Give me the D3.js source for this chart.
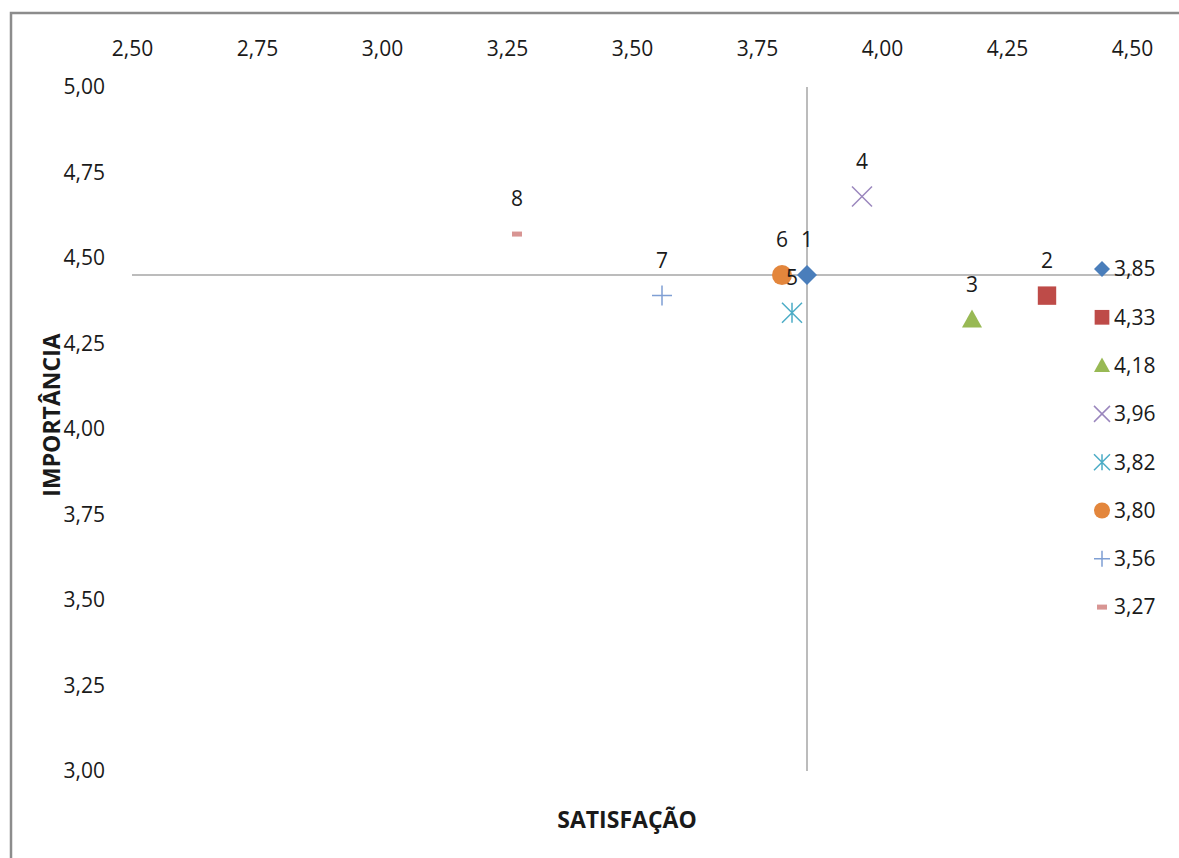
<!DOCTYPE html>
<html>
<head>
<meta charset="utf-8">
<script src="https://cdn.jsdelivr.net/npm/d3@7"></script>
<style>
  html, body { margin: 0; padding: 0; background: #fff; }
  svg { display: block; }
  text { font-family: "Open Sans", "Noto Sans", sans-serif; fill: #1a1a1a; }
</style>
</head>
<body>
<svg id="chart" width="1179" height="858"></svg>
<script>
// ---- data ----
const pointLabels = ["1", "2", "3", "4", "5", "6", "7", "8"];
const satisfaction = [3.85, 4.33, 4.18, 3.96, 3.82, 3.80, 3.56, 3.27];
const importance = [4.45, 4.39, 4.32, 4.68, 4.34, 4.45, 4.39, 4.57];
const xTicks = [2.50, 2.75, 3.00, 3.25, 3.50, 3.75, 4.00, 4.25, 4.50];
const yTicks = [3.00, 3.25, 3.50, 3.75, 4.00, 4.25, 4.50, 4.75, 5.00];
const crossX = 3.85;
const crossY = 4.45;
const xTitle = "SATISFAÇÃO";
const yTitle = "IMPORTÂNCIA";

// ---- styles ----
const shapes = ["diamond", "square", "triangle", "x", "asterisk", "circle", "plus", "dash"];
const colors = ["#4a7ebb", "#be4b48", "#98b954", "#9a86bd", "#4bacc6", "#e3863c", "#7f9fd4", "#d89593"];

const svg = d3.select("#chart");
const fmt = v => d3.format(".2f")(v).replace(".", ",");

const x = d3.scaleLinear().domain([2.5, 4.5]).range([132, 1132]);
const y = d3.scaleLinear().domain([3, 5]).range([771, 87]);

// frame
svg.append("path")
  .attr("d", "M11,870 L11,13 L1190,13")
  .attr("fill", "none").attr("stroke", "#8c8c8c").attr("stroke-width", 2.5);

// axes (labels only)
const xAxis = svg.append("g").attr("transform", `translate(0,${y(5) - 37})`)
  .call(d3.axisTop(x).tickValues(xTicks).tickFormat(fmt).tickSize(0).tickPadding(0));
xAxis.select(".domain").remove();
xAxis.selectAll("text").attr("font-size", 21).attr("font-family", "Open Sans").attr("fill", "#1a1a1a").attr("dy", "0.3em");

const yAxis = svg.append("g").attr("transform", `translate(${x(2.5)},0)`)
  .call(d3.axisLeft(y).tickValues(yTicks).tickFormat(fmt).tickSize(0).tickPadding(27));
yAxis.select(".domain").remove();
yAxis.selectAll("text").attr("font-size", 21).attr("font-family", "Open Sans").attr("fill", "#1a1a1a");

// crossing lines
svg.append("line")
  .attr("x1", x(2.5)).attr("x2", x(4.5)).attr("y1", y(crossY)).attr("y2", y(crossY))
  .attr("stroke", "#a6a6a6").attr("stroke-width", 1.5);
svg.append("line")
  .attr("x1", x(crossX)).attr("x2", x(crossX)).attr("y1", y(5)).attr("y2", y(3))
  .attr("stroke", "#a6a6a6").attr("stroke-width", 1.5);

// marker drawing
function drawMarker(g, shape, color, s) {
  const h = s / 2;
  switch (shape) {
    case "diamond":
      g.append("path").attr("d", `M0,${-h} L${h},0 L0,${h} L${-h},0 Z`).attr("fill", color);
      break;
    case "square":
      g.append("rect").attr("x", -h * 0.92).attr("y", -h * 0.92).attr("width", s * 0.92).attr("height", s * 0.92).attr("fill", color);
      break;
    case "triangle":
      g.append("path").attr("d", `M0,${-h} L${h},${h * 0.8} L${-h},${h * 0.8} Z`).attr("fill", color);
      break;
    case "x":
      g.append("path").attr("d", `M${-h},${-h} L${h},${h} M${-h},${h} L${h},${-h}`).attr("stroke", color).attr("stroke-width", 1.5);
      break;
    case "asterisk":
      g.append("path").attr("d", `M${-h},${-h} L${h},${h} M${-h},${h} L${h},${-h} M0,${-h} L0,${h}`).attr("stroke", color).attr("stroke-width", 1.5);
      break;
    case "circle":
      g.append("circle").attr("r", h).attr("fill", color);
      break;
    case "plus":
      g.append("path").attr("d", `M${-h},0 L${h},0 M0,${-h} L0,${h}`).attr("stroke", color).attr("stroke-width", 1.5);
      break;
    case "dash":
      g.append("rect").attr("x", -5).attr("y", -2.5).attr("width", 10).attr("height", 5).attr("fill", color);
      break;
  }
}

// points
const pts = svg.append("g");
satisfaction.forEach((sv, i) => {
  const g = pts.append("g").attr("transform", `translate(${x(sv)},${y(importance[i])})`);
  drawMarker(g, shapes[i], colors[i], 20);
});
// data labels
satisfaction.forEach((sv, i) => {
  svg.append("text")
    .attr("x", x(sv)).attr("y", y(importance[i]) - 35)
    .attr("dy", "0.35em").attr("text-anchor", "middle")
    .attr("font-size", 21).text(pointLabels[i]);
});

// legend
const legend = svg.append("g").attr("transform", "translate(1102,269)");
satisfaction.forEach((sv, i) => {
  const row = legend.append("g").attr("transform", `translate(0,${i * 48.3})`);
  drawMarker(row.append("g"), shapes[i], colors[i], 16);
  row.append("text").attr("x", 12).attr("dy", "0.35em").attr("font-size", 21).text(fmt(sv));
});

// axis titles
svg.append("text").attr("x", 627).attr("y", 820).attr("dy", "0.35em")
  .attr("text-anchor", "middle").attr("font-weight", "bold").attr("font-size", 23).text(xTitle);
svg.append("text").attr("transform", "translate(52,415) rotate(-90)").attr("dy", "0.35em")
  .attr("text-anchor", "middle").attr("font-weight", "bold").attr("font-size", 23).text(yTitle);
</script>
</body>
</html>
